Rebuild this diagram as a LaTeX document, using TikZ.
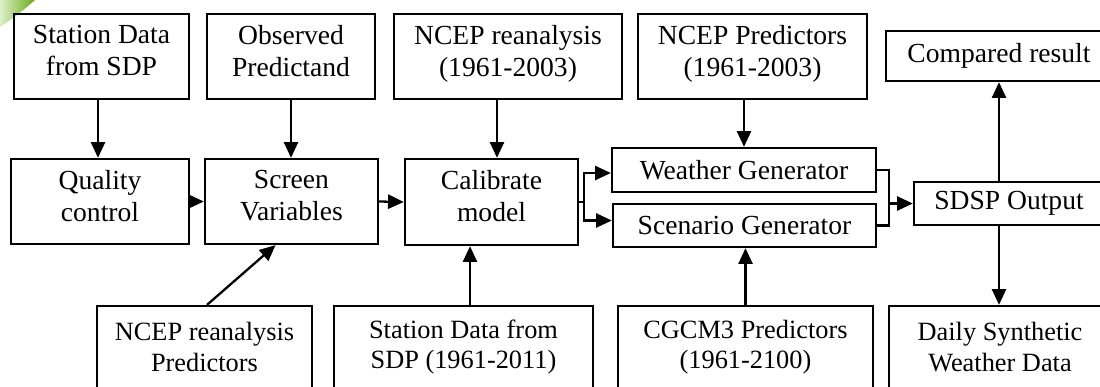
\documentclass[tikz,border=0pt]{standalone}
\usepackage{fontspec}
\setmainfont{Liberation Serif}
\usetikzlibrary{arrows.meta,calc}
\definecolor{leafdark}{RGB}{104,170,24}
\definecolor{leaflight}{RGB}{222,240,200}
\tikzset{
  blk/.style 2 args={draw, line width=1.3pt, inner sep=0pt, align=center,
    minimum width=#1*0.02cm, minimum height=#2*0.02cm,
    font=\fontsize{15.7}{18.2}\selectfont},
  % deeper last line: lifts two-line labels slightly inside their boxes
  lift/.style={execute at end node={\rule[-6.5pt]{0pt}{0pt}}},
  lowtxt/.style={font=\fontsize{15}{17.4}\selectfont},
  arr/.style={line width=1.3pt, -{Triangle[length=9pt,width=8pt]}},
  wire/.style={line width=1.3pt},
}
\begin{document}
\begin{tikzpicture}[x=0.02cm,y=-0.02cm]
\useasboundingbox (0,0) rectangle (1100,386);
\clip (0,0) rectangle (1100,386);

% corner leaf ornament
\shade[left color=leaflight, right color=leafdark]
  (0,0) -- (35,0) .. controls (24,10) and (12,19) .. (0,27) -- cycle;

% top row
\node[blk={175}{85}, lift] (sA) at (101.5,56.5) {Station Data\\from SDP};
\node[blk={168}{85}, lift] (sB) at (291,56.5) {Observed\\Predictand};
\node[blk={228}{85}, lift] (sC) at (508,56.5) {NCEP reanalysis\\(1961-2003)};
\node[blk={229}{85}, lift] (sD) at (752.5,56.5) {NCEP Predictors\\(1961-2003)};
\node[blk={226}{50}] (cmp) at (999,56) {Compared result};

% middle row
\node[blk={178}{85}, lift] (qc) at (100,201.5) {Quality\\control};
\node[blk={173}{85}, lift] (sv) at (291.5,201.5) {Screen\\Variables};
\node[blk={173}{86}, lift] (cal) at (491.5,202) {Calibrate\\model};
\node[blk={264}{44}] (wg) at (744,170) {Weather Generator};
\node[blk={263}{43}] (sg) at (744.5,225.5) {Scenario Generator};
\node[blk={190}{43}] (out) at (1009,203.5) {SDSP Output};

% bottom row
\node[blk={215}{82}, lowtxt] (np) at (204.5,347) {NCEP reanalysis\\Predictors};
\node[blk={259}{82}, lowtxt] (sd) at (463.5,347) {Station Data from\\SDP (1961-2011)};
\node[blk={255}{82}, lowtxt] (cg) at (745.5,347) {CGCM3 Predictors\\(1961-2100)};
\node[blk={222}{82}, lowtxt] (daily) at (1000,347) {Daily Synthetic\\Weather Data};

% inputs from the top
\coordinate (atop) at ($(sA.south)+(-3.5,0)$);
\draw[arr] (atop) -- (atop |- qc.north);
\draw[arr] (sB.south) -- (sB.south |- sv.north);
\coordinate (ctop) at ($(sC.south)+(-11,0)$);
\draw[arr] (ctop) -- (ctop |- cal.north);
\draw[arr] (sD.south -| wg.north) -- (wg.north);

% main chain
\draw[arr] (qc.east) -- (sv.west);
\draw[arr] (sv.east) -- (cal.west);
\draw[wire] (cal.east) -- ++(5,0) coordinate (fork);
\draw[arr] (fork) |- ($(wg.west)+(0,3)$);
\draw[arr] (fork) |- ($(sg.west)+(0,-5)$);
\draw[wire] (wg.east) -- ++(12,0) coordinate (join) |- (sg.east);
\draw[arr] (join |- out.west) -- (out.west);
\draw[arr] (out.north -| cmp.south) -- (cmp.south);
\draw[arr] (out.south -| cmp.south) -- (daily.north -| cmp.south);

% inputs from the bottom
\draw[arr] ($(np.north)+(2.5,0)$) -- ($(sv.south)+(-16,0)$);
\coordinate (sdtop) at ($(sd.north)+(6.5,0)$);
\draw[arr] (sdtop) -- (sdtop |- cal.south);
\draw[arr] (cg.north) -- (cg.north |- sg.south);
\end{tikzpicture}
\end{document}
